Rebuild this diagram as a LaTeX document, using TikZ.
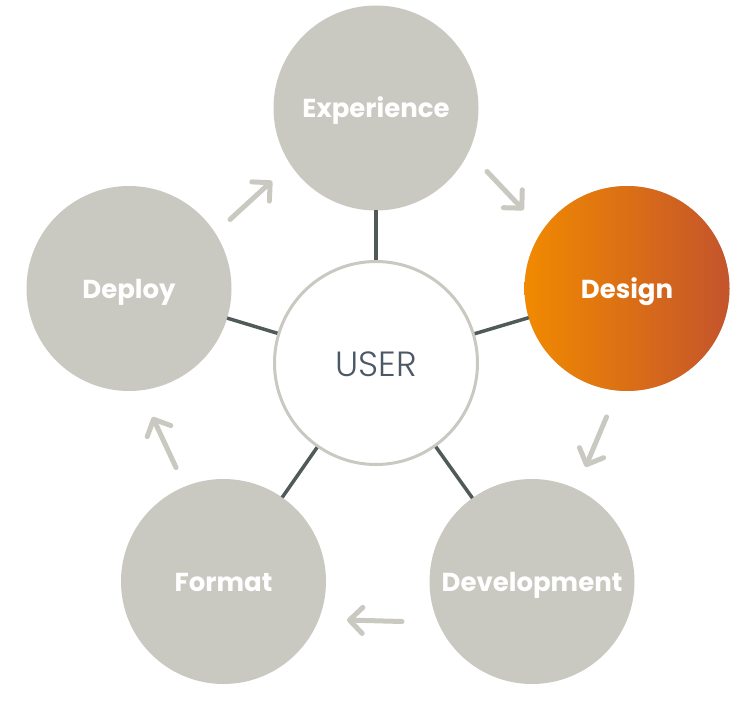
\documentclass[tikz,border=0pt]{standalone}
\usepackage{fontspec}
\setmainfont{Poppins}
\newfontfamily\lightfont{Poppins Light}
\usetikzlibrary{arrows.meta}
\definecolor{ringgray}{RGB}{201,200,193}
\definecolor{linkdark}{RGB}{80,90,88}
\definecolor{usertext}{RGB}{77,88,102}
\definecolor{orangeL}{RGB}{241,138,0}
\definecolor{orangeR}{RGB}{196,84,44}
\begin{document}
\begin{tikzpicture}[x=1pt,y=-1pt,
  stage/.style={circle, fill=ringgray, minimum size=205pt, inner sep=0pt, outer sep=0pt,
    text=white, font=\bfseries\fontsize{26}{26}\selectfont, text height=19pt, text depth=0pt},
  hub/.style={circle, draw=ringgray, line width=3pt, fill=white, minimum size=203pt, inner sep=0pt,
    text=usertext, font=\lightfont\fontsize{35}{35}\selectfont, text height=26pt, text depth=0pt},
  link/.style={draw=linkdark, line width=3.5pt},
  flow/.style={draw=ringgray, line width=5pt, line cap=round,
    -{Straight Barb[length=13pt,width=26pt,round]}}]
\useasboundingbox (0,0) rectangle (746,703);
% stages
\node[stage] (exp) at (376,108) {Experience};
\node[stage, left color=orangeL, right color=orangeR] (des) at (627,288.5) {Design};
\node[stage] (dev) at (532,581.5) {Development};
\node[stage] (fmt) at (223.5,581.5) {Format};
\node[stage] (dep) at (129,288.5) {Deploy};
\node[hub] (user) at (376,363) {USER};
% links
\draw[link] (user) -- (exp);
\draw[link] (user) -- (des);
\draw[link] (user) -- (dev);
\draw[link] (user) -- (fmt);
\draw[link] (user) -- (dep);
% flow arrows
\coordinate (a1s) at (230,219.5);
\coordinate (a1e) at (272,181);
\coordinate (a2s) at (487,171.5);
\coordinate (a2e) at (523.5,210);
\coordinate (a3s) at (606.5,417);
\coordinate (a3e) at (585.5,467);
\coordinate (a4s) at (402,621.5);
\coordinate (a4e) at (347,620);
\coordinate (a5s) at (176,467.5);
\coordinate (a5e) at (152.5,417);
\draw[flow] (a1s) -- (a1e);
\draw[flow] (a2s) -- (a2e);
\draw[flow] (a3s) -- (a3e);
\draw[flow] (a4s) -- (a4e);
\draw[flow] (a5s) -- (a5e);
\end{tikzpicture}
\end{document}
